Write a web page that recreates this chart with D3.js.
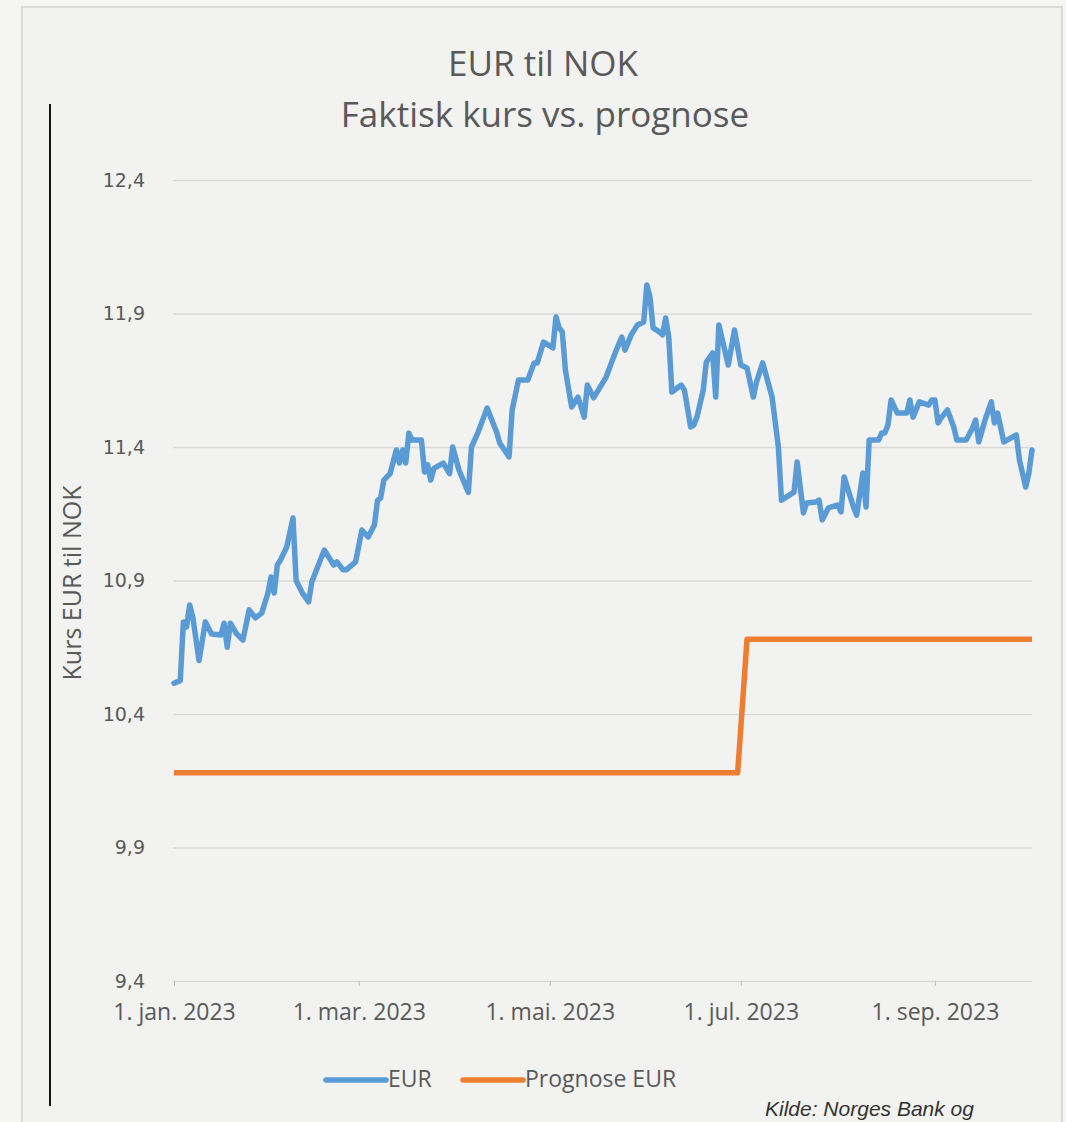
<!DOCTYPE html>
<meta charset="utf-8">
<script src="https://d3js.org/d3.v7.min.js"></script>
<style>
    body { margin: 0; background: #f5f5f4; }
    .tick text { fill: #595959; }
</style>
<div id="my_dataviz"></div>
<script>

    // EUR/NOK daily rate
    var eurDates = [
        "2023-01-01", "2023-01-03", "2023-01-04", "2023-01-05", "2023-01-06", "2023-01-07", "2023-01-09",
        "2023-01-11", "2023-01-13", "2023-01-16", "2023-01-17", "2023-01-18", "2023-01-19", "2023-01-21",
        "2023-01-23", "2023-01-25", "2023-01-27", "2023-01-29", "2023-01-31", "2023-02-01", "2023-02-02",
        "2023-02-03", "2023-02-04", "2023-02-06", "2023-02-08", "2023-02-09", "2023-02-11", "2023-02-13",
        "2023-02-14", "2023-02-18", "2023-02-21", "2023-02-22", "2023-02-24", "2023-02-25", "2023-02-28",
        "2023-03-02", "2023-03-04", "2023-03-06", "2023-03-07", "2023-03-08", "2023-03-09", "2023-03-11",
        "2023-03-13", "2023-03-14", "2023-03-15", "2023-03-16", "2023-03-17", "2023-03-18", "2023-03-21",
        "2023-03-22", "2023-03-23", "2023-03-24", "2023-03-25", "2023-03-28", "2023-03-30", "2023-03-31",
        "2023-04-02", "2023-04-05", "2023-04-06", "2023-04-08", "2023-04-11", "2023-04-14", "2023-04-15",
        "2023-04-18", "2023-04-19", "2023-04-21", "2023-04-24", "2023-04-26", "2023-04-27", "2023-04-29",
        "2023-05-02", "2023-05-03", "2023-05-04", "2023-05-05", "2023-05-06", "2023-05-08", "2023-05-10",
        "2023-05-11", "2023-05-12", "2023-05-13", "2023-05-15", "2023-05-19", "2023-05-22", "2023-05-24",
        "2023-05-25", "2023-05-27", "2023-05-29", "2023-05-31", "2023-06-01", "2023-06-02", "2023-06-03",
        "2023-06-05", "2023-06-06", "2023-06-07", "2023-06-08", "2023-06-09", "2023-06-12", "2023-06-13",
        "2023-06-15", "2023-06-16", "2023-06-17", "2023-06-19", "2023-06-20", "2023-06-22", "2023-06-23",
        "2023-06-24", "2023-06-27", "2023-06-29", "2023-07-01", "2023-07-03", "2023-07-05", "2023-07-06",
        "2023-07-08", "2023-07-11", "2023-07-13", "2023-07-14", "2023-07-18", "2023-07-19", "2023-07-21",
        "2023-07-22", "2023-07-25", "2023-07-26", "2023-07-27", "2023-07-29", "2023-08-01", "2023-08-02",
        "2023-08-03", "2023-08-06", "2023-08-07", "2023-08-09", "2023-08-10", "2023-08-11", "2023-08-14",
        "2023-08-15", "2023-08-16", "2023-08-17", "2023-08-18", "2023-08-20", "2023-08-23", "2023-08-24",
        "2023-08-25", "2023-08-27", "2023-08-30", "2023-08-31", "2023-09-01", "2023-09-02", "2023-09-03",
        "2023-09-05", "2023-09-07", "2023-09-08", "2023-09-11", "2023-09-13", "2023-09-14", "2023-09-15",
        "2023-09-17", "2023-09-19", "2023-09-20", "2023-09-21", "2023-09-23", "2023-09-24", "2023-09-27",
        "2023-09-28", "2023-09-30", "2023-10-01", "2023-10-02"
    ];
    var eurValues = [
        10.515, 10.525, 10.745, 10.726, 10.808, 10.763, 10.60,
        10.745, 10.70, 10.696, 10.74, 10.65, 10.74, 10.70,
        10.677, 10.79, 10.76, 10.778, 10.853, 10.913, 10.853,
        10.958, 10.977, 11.025, 11.134, 10.90, 10.853, 10.82,
        10.894, 11.014, 10.958, 10.97, 10.94, 10.94, 10.97,
        11.089, 11.063, 11.108, 11.20, 11.209, 11.276, 11.30,
        11.389, 11.34, 11.389, 11.34, 11.452, 11.426, 11.426,
        11.306, 11.333, 11.276, 11.32, 11.34, 11.30, 11.40,
        11.314, 11.23, 11.40, 11.452, 11.546, 11.456, 11.415,
        11.363, 11.539, 11.651, 11.651, 11.715, 11.715, 11.793,
        11.771, 11.887, 11.846, 11.831, 11.688, 11.55, 11.587,
        11.55, 11.512, 11.632, 11.584, 11.662, 11.756, 11.812,
        11.763, 11.82, 11.857, 11.868, 12.007, 11.962, 11.846,
        11.831, 11.82, 11.883, 11.812, 11.606, 11.632, 11.613,
        11.475, 11.482, 11.512, 11.613, 11.718, 11.752, 11.587,
        11.857, 11.707, 11.838, 11.707, 11.696, 11.587, 11.643,
        11.715, 11.587, 11.40, 11.201, 11.231, 11.344, 11.153,
        11.19, 11.194, 11.201, 11.127, 11.172, 11.183, 11.157,
        11.288, 11.175, 11.145, 11.303, 11.175, 11.426, 11.426,
        11.452, 11.452, 11.482, 11.576, 11.527, 11.527, 11.576,
        11.512, 11.569, 11.557, 11.576, 11.576, 11.49, 11.509,
        11.539, 11.475, 11.426, 11.426, 11.471, 11.501, 11.419,
        11.501, 11.569, 11.49, 11.527, 11.419, 11.426, 11.445,
        11.351, 11.25, 11.303, 11.389
    ];

    // Prognose (step)
    var prognoseDates = ["2023-01-01", "2023-06-30", "2023-07-03", "2023-10-02"];
    var prognoseValues = [10.18, 10.18, 10.68, 10.68];

    var yTicks = [9.4, 9.9, 10.4, 10.9, 11.4, 11.9, 12.4];
    var xTickDates = ["2023-01-01", "2023-03-01", "2023-05-01", "2023-07-01", "2023-09-01"];
    var xTickLabels = ["1. jan. 2023", "1. mar. 2023", "1. mai. 2023", "1. jul. 2023", "1. sep. 2023"];

    var parseDate = d3.timeParse("%Y-%m-%d");

    var W = 1066, H = 1122;
    var plotLeft = 174, plotRight = 1032, plotTop = 180, plotBottom = 981;

    var svg = d3.select("#my_dataviz")
        .append("svg")
        .attr("width", W)
        .attr("height", H)
        .style("display", "block");

    // frame
    svg.append("rect")
        .attr("x", 22).attr("y", 7)
        .attr("width", 1040).attr("height", 1130)
        .attr("fill", "#f2f2f0")
        .attr("stroke", "#dadada")
        .attr("stroke-width", 2);

    // black vertical rule on the left
    svg.append("line")
        .attr("x1", 50).attr("x2", 50)
        .attr("y1", 104).attr("y2", 1106)
        .attr("stroke", "#111")
        .attr("stroke-width", 2);

    // titles
    svg.append("text")
        .attr("x", 543).attr("y", 76)
        .attr("text-anchor", "middle")
        .style("font-family", "'Open Sans', sans-serif")
        .style("font-size", "35px")
        .style("fill", "#595959")
        .text("EUR til NOK");
    svg.append("text")
        .attr("x", 545).attr("y", 127)
        .attr("text-anchor", "middle")
        .style("font-family", "'Open Sans', sans-serif")
        .style("font-size", "35px")
        .style("fill", "#595959")
        .text("Faktisk kurs vs. prognose");

    // scales
    var x = d3.scaleTime()
        .domain([parseDate("2023-01-01"), parseDate("2023-10-02")])
        .range([plotLeft, plotRight]);
    var y = d3.scaleLinear()
        .domain([9.4, 12.4])
        .range([plotBottom, plotTop]);

    // Y axis with gridlines
    var yAxis = svg.append("g")
        .attr("transform", "translate(" + (plotLeft - 1) + ",0)")
        .call(d3.axisLeft(y)
            .tickValues(yTicks)
            .tickSize(-(plotRight - plotLeft + 1))
            .tickPadding(28)
            .tickFormat(function (d) { return d3.format(".1f")(d).replace(".", ","); }));
    yAxis.select(".domain").remove();
    yAxis.selectAll("line").attr("stroke", "#d9d9d9").attr("stroke-width", 1.5);
    yAxis.selectAll("text")
        .style("font-family", "'DejaVu Sans', sans-serif")
        .style("font-size", "19px");

    // X axis
    var xAxis = svg.append("g")
        .attr("transform", "translate(0," + plotBottom + ")")
        .call(d3.axisBottom(x)
            .tickValues(xTickDates.map(parseDate))
            .tickSize(5)
            .tickPadding(18)
            .tickFormat(function (d, i) { return xTickLabels[i]; }));
    xAxis.select(".domain").remove();
    xAxis.selectAll("line").attr("stroke", "#bfbfbf");
    xAxis.selectAll("text")
        .style("font-family", "'Open Sans', sans-serif")
        .style("font-size", "23px");

    // Y axis title
    svg.append("text")
        .attr("transform", "translate(81,583)rotate(-90)")
        .attr("text-anchor", "middle")
        .style("font-family", "'Open Sans', sans-serif")
        .style("font-size", "25px")
        .style("fill", "#595959")
        .text("Kurs EUR til NOK");

    var line = d3.line()
        .x(function (d) { return x(d[0]); })
        .y(function (d) { return y(d[1]); });

    var eurData = eurDates.map(function (d, i) { return [parseDate(d), eurValues[i]]; });
    var progData = prognoseDates.map(function (d, i) { return [parseDate(d), prognoseValues[i]]; });

    svg.append("path")
        .datum(progData)
        .attr("d", line)
        .attr("fill", "none")
        .attr("stroke", "#ed7d31")
        .attr("stroke-width", 5.5)
        .attr("stroke-linejoin", "round");

    svg.append("path")
        .datum(eurData)
        .attr("d", line)
        .attr("fill", "none")
        .attr("stroke", "#5b9bd5")
        .attr("stroke-width", 5.5)
        .attr("stroke-linejoin", "round")
        .attr("stroke-linecap", "round");

    // legend
    var legend = [
        { name: "EUR", color: "#5b9bd5", x: 326 },
        { name: "Prognose EUR", color: "#ed7d31", x: 463 }
    ];
    legend.forEach(function (l) {
        svg.append("line")
            .attr("x1", l.x).attr("x2", l.x + 60)
            .attr("y1", 1080).attr("y2", 1080)
            .attr("stroke", l.color)
            .attr("stroke-width", 5.5)
            .attr("stroke-linecap", "round");
        svg.append("text")
            .attr("x", l.x + 62).attr("y", 1087)
            .style("font-family", "'Open Sans', sans-serif")
            .style("font-size", "23px")
            .style("fill", "#595959")
            .text(l.name);
    });

    // source note
    svg.append("text")
        .attr("x", 765).attr("y", 1116)
        .style("font-family", "'Liberation Sans', Arial, sans-serif")
        .style("font-style", "italic")
        .style("font-size", "21px")
        .style("fill", "#333")
        .text("Kilde: Norges Bank og");

</script>
